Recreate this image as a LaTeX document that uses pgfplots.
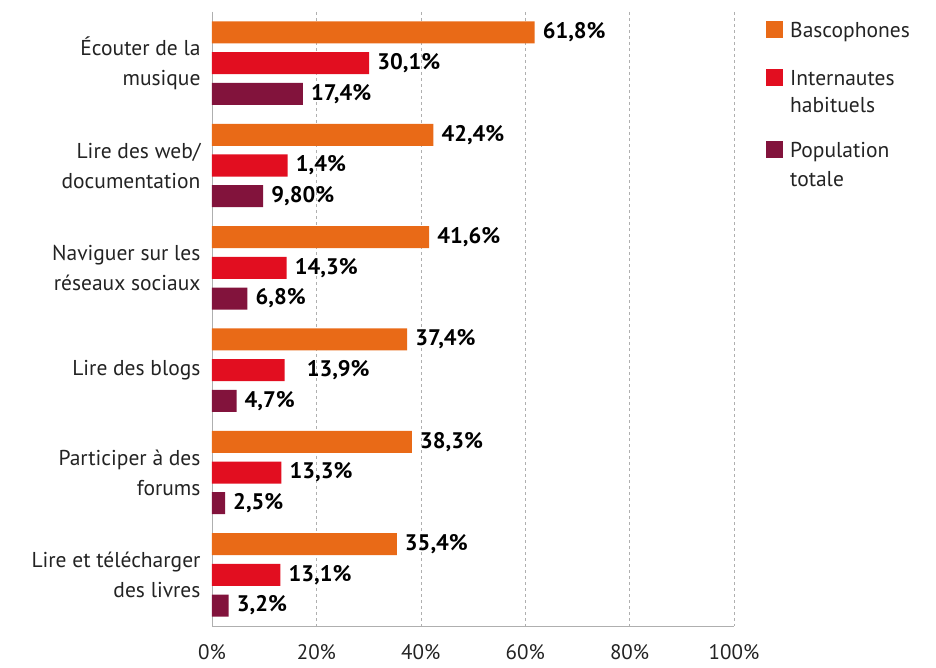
\documentclass[border=0pt]{standalone}
\usepackage{fontspec}
\setmainfont{PT Sans}
\usepackage{pgfplots}
\pgfplotsset{compat=1.18}
\definecolor{cOrange}{RGB}{233,106,23}
\definecolor{cRed}{RGB}{226,14,32}
\definecolor{cPurple}{RGB}{130,19,60}
\definecolor{cGrid}{RGB}{175,175,175}
\definecolor{cText}{RGB}{35,35,35}
\begin{document}
\begin{tikzpicture}
\begin{axis}[
    name=ax,
    scale only axis,
    width=522pt, height=614pt,
    xbar, bar shift=0pt, bar width=0.215,
    xmin=0, xmax=100,
    ymin=-0.5, ymax=5.5,
    y dir=reverse,
    axis x line*=bottom,
    axis y line*=left,
    axis line style={cGrid, line width=0.8pt, -},
    xtick={0,20,40,60,80,100},
    xticklabels={0\%,20\%,40\%,60\%,80\%,100\%},
    ytick={0,1,2,3,4,5},
    yticklabels={{Écouter de la\\musique},{Lire des web/\\documentation},{Naviguer sur les\\réseaux sociaux},{Lire des blogs},{Participer à des\\forums},{Lire et télécharger\\des livres}},
    major tick length=0pt,
    xmajorgrids,
    grid style={cGrid, dashed, line width=0.6pt},
    x tick label style={font=\fontsize{21}{24}\selectfont, text=cText, yshift=-15pt},
    y tick label style={font=\fontsize{21.5}{30}\selectfont, text=cText, align=right, xshift=-8pt},
    /pgf/number format/assume math mode=true,
    point meta=explicit symbolic,
    nodes near coords,
    nodes near coords style={font=\fontsize{22.5}{26}\bfseries, text=black, anchor=west, inner xsep=8pt},
    every axis plot/.append style={draw=none},
    clip=false,
]
\addplot[fill=cOrange] coordinates {
    (61.8,-0.3) [61,8\%]
    (42.4,0.7) [42,4\%]
    (41.6,1.7) [41,6\%]
    (37.4,2.7) [37,4\%]
    (38.3,3.7) [38,3\%]
    (35.4,4.7) [35,4\%]
};
\addplot[fill=cRed] coordinates {
    (30.1,0) [30,1\%]
    (14.5,1) [1,4\%]
    (14.3,2) [14,3\%]
    (13.9,3) [\hspace{14pt}13,9\%]
    (13.3,4) [13,3\%]
    (13.1,5) [13,1\%]
};
\addplot[fill=cPurple] coordinates {
    (17.4,0.3) [17,4\%]
    (9.8,1.3) [9,80\%]
    (6.8,2.3) [6,8\%]
    (4.7,3.3) [4,7\%]
    (2.5,4.3) [2,5\%]
    (3.2,5.3) [3,2\%]
};
\end{axis}
% legend
\begin{scope}[shift={(ax.north west)}, every node/.style={anchor=base west, inner sep=0pt, text=cText, font=\fontsize{21.5}{28}\selectfont}]
  \fill[cOrange] (554pt,-26.5pt) rectangle (571pt,-9.5pt);
  \node at (578pt,-26pt) {Bascophones};
  \fill[cRed] (554pt,-74.5pt) rectangle (571pt,-57.5pt);
  \node at (578pt,-74pt) {Internautes};
  \node at (578pt,-101pt) {habituels};
  \fill[cPurple] (554pt,-146.5pt) rectangle (571pt,-129.5pt);
  \node at (578pt,-146pt) {Population};
  \node at (578pt,-175pt) {totale};
\end{scope}
\path (ax.south west) ++(-212pt,-42pt) rectangle ++(936pt,668pt);
\end{tikzpicture}
\end{document}
